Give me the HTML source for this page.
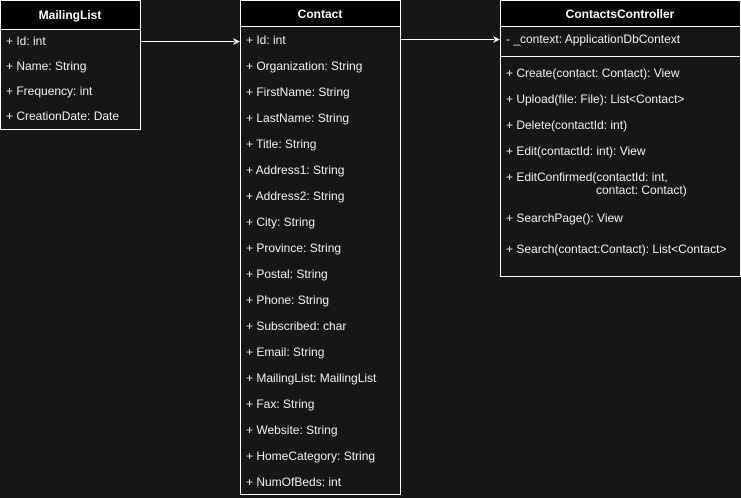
<!DOCTYPE html>
<html><head><meta charset="utf-8"><style>
html,body{margin:0;padding:0;background:#161616;}
svg{display:block;}
text{font-family:"Liberation Sans",Arial,sans-serif;font-size:12px;fill:#f0f0f0;}
.h{font-weight:bold;text-anchor:middle;fill:#fff;}
</style></head><body>
<svg width="741" height="498" viewBox="0 0 741 498" xmlns="http://www.w3.org/2000/svg">
<rect width="741" height="498" fill="#161616"/>
<!-- MailingList -->
<rect x="0.5" y="0.5" width="140" height="129" fill="#161616" stroke="#fff"/>
<rect x="0.5" y="0.5" width="140" height="29" fill="#000" stroke="#fff"/>
<text class="h" x="70" y="19">MailingList</text>
<text x="6" y="45">+ Id: int</text>
<text x="6" y="70">+ Name: String</text>
<text x="6" y="95">+ Frequency: int</text>
<text x="6" y="120">+ CreationDate: Date</text>
<!-- Contact -->
<rect x="240.5" y="0.5" width="160" height="494" fill="#161616" stroke="#fff"/>
<rect x="240.5" y="0.5" width="160" height="26" fill="#000" stroke="#fff"/>
<text class="h" x="320" y="18">Contact</text>
<g>
<text x="246" y="44">+ Id: int</text>
<text x="246" y="70">+ Organization: String</text>
<text x="246" y="96">+ FirstName: String</text>
<text x="246" y="122">+ LastName: String</text>
<text x="246" y="148">+ Title: String</text>
<text x="246" y="174">+ Address1: String</text>
<text x="246" y="200">+ Address2: String</text>
<text x="246" y="226">+ City: String</text>
<text x="246" y="252">+ Province: String</text>
<text x="246" y="278">+ Postal: String</text>
<text x="246" y="304">+ Phone: String</text>
<text x="246" y="330">+ Subscribed: char</text>
<text x="246" y="356">+ Email: String</text>
<text x="246" y="382">+ MailingList: MailingList</text>
<text x="246" y="408">+ Fax: String</text>
<text x="246" y="434">+ Website: String</text>
<text x="246" y="460">+ HomeCategory: String</text>
<text x="246" y="486">+ NumOfBeds: int</text>
</g>
<!-- ContactsController -->
<rect x="500.5" y="0.5" width="240" height="276" fill="#161616" stroke="#fff"/>
<rect x="500.5" y="0.5" width="240" height="26" fill="#000" stroke="#fff"/>
<text class="h" x="620" y="18">ContactsController</text>
<text x="506" y="43">- _context: ApplicationDbContext</text>
<line x1="500" y1="56.5" x2="741" y2="56.5" stroke="#fff"/>
<text x="506" y="77">+ Create(contact: Contact): View</text>
<text x="506" y="103">+ Upload(file: File): List&lt;Contact&gt;</text>
<text x="506" y="129">+ Delete(contactId: int)</text>
<text x="506" y="155">+ Edit(contactId: int): View</text>
<text x="506" y="181">+ EditConfirmed(contactId: int,</text>
<text x="596" y="194">contact: Contact)</text>
<text x="506" y="222">+ SearchPage(): View</text>
<text x="506" y="253">+ Search(contact:Contact): List&lt;Contact&gt;</text>
<!-- connectors -->
<line x1="141" y1="41.5" x2="234" y2="41.5" stroke="#fff"/>
<polygon points="240,41.5 233,38 235,41.5 233,45" fill="#fff"/>
<line x1="401" y1="39.5" x2="494" y2="39.5" stroke="#fff"/>
<polygon points="500,39.5 493,36 495,39.5 493,43" fill="#fff"/>
</svg>
</body></html>
